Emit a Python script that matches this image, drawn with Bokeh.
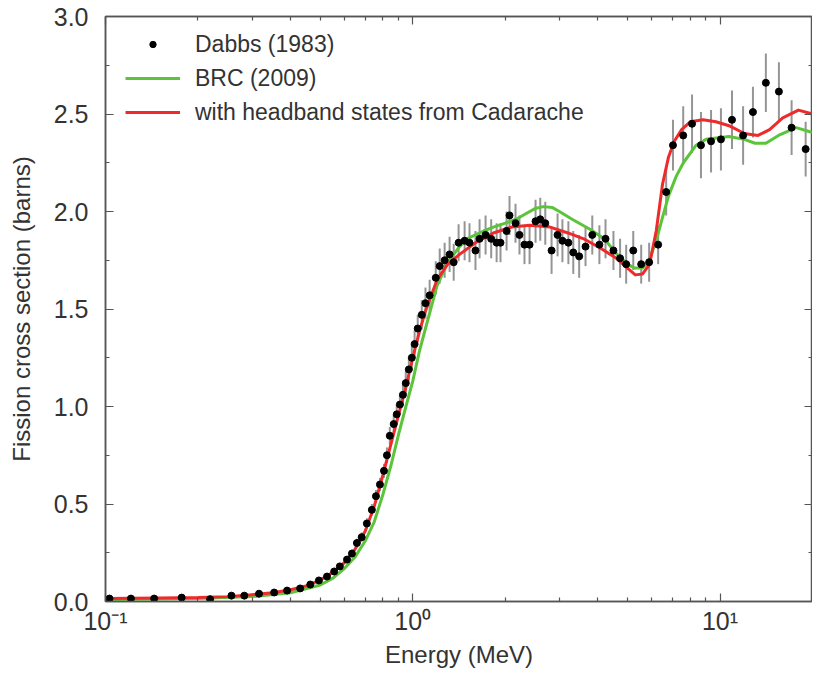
from bokeh.plotting import figure
from bokeh.models import (ColumnDataSource, FixedTicker, LogAxis, LinearAxis,
                          PrintfTickFormatter, Legend, LegendItem, Range1d,
                          CustomJSTickFormatter)
from bokeh.embed import file_html
from bokeh.resources import INLINE

FONT = "Liberation Sans"

# ---- Dabbs (1983) measured data ----
dabbs_E = [0.103, 0.121, 0.144, 0.177, 0.219, 0.257, 0.283, 0.316, 0.354, 0.390,
           0.430, 0.464, 0.495, 0.526, 0.555, 0.579, 0.611, 0.634, 0.658, 0.682,
           0.709, 0.736, 0.759, 0.782, 0.806, 0.824, 0.842, 0.867,
           0.887, 0.908, 0.929, 0.949, 0.971, 0.993, 1.014, 1.038, 1.07, 1.10,
           1.135, 1.188, 1.224, 1.27, 1.318, 1.359, 1.41, 1.475, 1.53, 1.60,
           1.65, 1.726, 1.80, 1.875, 1.93, 2.02, 2.065, 2.16, 2.225, 2.31,
           2.40, 2.51, 2.60, 2.70, 2.83, 2.96, 3.07, 3.21, 3.33, 3.48,
           3.65, 3.84, 4.05, 4.24, 4.50, 4.73, 4.95, 5.22, 5.54, 5.88,
           6.29,
           6.68, 7.03, 7.59, 8.11, 8.67, 9.35, 10.07, 10.94, 11.89, 12.8,
           14.1, 15.55, 17.1, 19.0]
dabbs_sigma = [0.015, 0.015, 0.015, 0.02, 0.012, 0.03, 0.03, 0.04, 0.046, 0.056,
               0.067, 0.087, 0.108, 0.128, 0.154, 0.18, 0.215, 0.246, 0.30, 0.33,
               0.40, 0.47, 0.54, 0.60, 0.67, 0.75, 0.85, 0.91,
               0.96, 1.01, 1.06, 1.12, 1.19, 1.25, 1.32, 1.40, 1.47, 1.53,
               1.57, 1.66, 1.72, 1.75, 1.78, 1.74, 1.84, 1.85, 1.84, 1.80,
               1.86, 1.88, 1.86, 1.84, 1.84, 1.90, 1.98, 1.94, 1.88, 1.83,
               1.83, 1.95, 1.96, 1.94, 1.80, 1.88, 1.85, 1.84, 1.79, 1.77,
               1.82, 1.88, 1.83, 1.86, 1.80, 1.76, 1.73, 1.80, 1.73, 1.74,
               1.83,
               2.10, 2.34, 2.39, 2.45, 2.34, 2.36, 2.37, 2.47, 2.39, 2.51,
               2.66, 2.615, 2.43, 2.32]
dabbs_err = [0.006, 0.006, 0.006, 0.006, 0.006, 0.008, 0.008, 0.008, 0.01, 0.01,
             0.01, 0.012, 0.012, 0.014, 0.015, 0.016, 0.018, 0.02, 0.022, 0.024,
             0.027, 0.03, 0.032, 0.034, 0.036, 0.04, 0.045, 0.048,
             0.05, 0.05, 0.055, 0.06, 0.06, 0.065, 0.07, 0.07, 0.075, 0.08,
             0.08, 0.085, 0.09, 0.09, 0.09, 0.095, 0.095, 0.1, 0.1, 0.1,
             0.1, 0.1, 0.1, 0.1, 0.1, 0.1, 0.1, 0.1, 0.1, 0.1,
             0.1, 0.11, 0.11, 0.11, 0.12, 0.11, 0.11, 0.11, 0.11, 0.11,
             0.1, 0.1, 0.1, 0.1, 0.1, 0.1, 0.1, 0.1, 0.1, 0.1,
             0.1,
             0.12, 0.13, 0.15, 0.15, 0.17, 0.16, 0.16, 0.15, 0.15, 0.13,
             0.15, 0.15, 0.14, 0.14]

# ---- BRC (2009) evaluation ----
brc_E = [0.1, 0.2, 0.3, 0.4, 0.5, 0.55, 0.6, 0.65, 0.7, 0.75, 0.8, 0.85, 0.9,
         0.95, 1.0, 1.05, 1.1, 1.2, 1.3, 1.42, 1.5, 1.7, 1.83, 2.0, 2.2, 2.34,
         2.5, 2.66, 2.85, 3.0, 3.3, 3.76, 4.2, 4.59, 5.0, 5.26, 5.6, 5.88, 6.2,
         6.5, 6.8, 7.2, 7.6, 8.36, 9.0, 10.7, 12.0, 13.0, 14.1, 15.5, 17.7, 20.0]
brc_sigma = [0.01, 0.015, 0.025, 0.045, 0.085, 0.12, 0.17, 0.23, 0.31, 0.41,
             0.55, 0.70, 0.86, 1.00, 1.13, 1.28, 1.40, 1.62, 1.74, 1.82, 1.86,
             1.90, 1.92, 1.94, 1.965, 1.99, 2.015, 2.025, 2.02, 2.00, 1.96,
             1.91, 1.86, 1.785, 1.73, 1.71, 1.71, 1.75, 1.85, 1.97, 2.08, 2.18,
             2.25, 2.34, 2.37, 2.385, 2.37, 2.35, 2.35, 2.39, 2.43, 2.405]

# ---- with headband states from Cadarache ----
cad_E = [0.1, 0.15, 0.2, 0.25, 0.3, 0.35, 0.4, 0.45, 0.5, 0.55, 0.6, 0.65, 0.7,
         0.75, 0.8, 0.85, 0.9, 0.95, 1.0, 1.05, 1.1, 1.2, 1.3, 1.42, 1.6, 1.83,
         2.1, 2.4, 2.8, 3.2, 3.6, 4.1, 4.6, 5.0, 5.3, 5.6, 5.9, 6.2, 6.5, 6.8,
         7.1, 7.5, 8.0, 8.8, 9.7, 10.7, 12.0, 13.3, 14.5, 16.0, 18.0, 20.0]
cad_sigma = [0.015, 0.018, 0.02, 0.025, 0.035, 0.045, 0.06, 0.08, 0.11, 0.15,
             0.20, 0.27, 0.36, 0.49, 0.65, 0.81, 0.96, 1.10, 1.25, 1.38, 1.49,
             1.65, 1.73, 1.78, 1.84, 1.89, 1.92, 1.93, 1.92, 1.89, 1.86, 1.81,
             1.76, 1.71, 1.675, 1.68, 1.73, 1.90, 2.14, 2.28, 2.36, 2.42, 2.46,
             2.47, 2.46, 2.44, 2.40, 2.39, 2.42, 2.48, 2.52, 2.50]

x_major = [0.1, 1, 10]
x_minor = [0.2, 0.3, 0.4, 0.5, 0.6, 0.7, 0.8, 0.9, 2, 3, 4, 5, 6, 7, 8, 9, 20]
x_labels = {0.1: "10⁻¹", 1: "10⁰", 10: "10¹"}
y_major = [0.0, 0.5, 1.0, 1.5, 2.0, 2.5, 3.0]
y_minor = [0.25, 0.75, 1.25, 1.75, 2.25, 2.75]

assert len(dabbs_E) == len(dabbs_sigma) == len(dabbs_err)
assert len(brc_E) == len(brc_sigma)
assert len(cad_E) == len(cad_sigma)

dsrc = ColumnDataSource(dict(
    x=dabbs_E, y=dabbs_sigma,
    lo=[s - e for s, e in zip(dabbs_sigma, dabbs_err)],
    hi=[s + e for s, e in zip(dabbs_sigma, dabbs_err)],
))

FRAME_H = 585
p = figure(x_axis_type="log", output_backend="svg", toolbar_location=None,
           frame_width=707, frame_height=FRAME_H,
           x_range=Range1d(0.1, 20), y_range=Range1d(0, 3.0),
           min_border_left=105, min_border_right=0, min_border_top=16,
           min_border_bottom=0)
p.background_fill_color = "white"
p.border_fill_color = "white"
p.grid.visible = False
p.outline_line_color = "#555555"
p.outline_line_width = 1.5

GREY = "#555555"
TXT = "#333333"

def style_axis(ax, ticks, minor, labels=True):
    ax.ticker = FixedTicker(ticks=ticks, minor_ticks=minor)
    ax.major_tick_in = 8
    ax.major_tick_out = 0
    ax.minor_tick_in = 4
    ax.minor_tick_out = 0
    ax.axis_line_color = GREY
    ax.axis_line_width = 1.5
    ax.major_tick_line_color = GREY
    ax.minor_tick_line_color = GREY
    ax.major_tick_line_width = 1.2
    ax.minor_tick_line_width = 1.2
    if labels:
        ax.major_label_text_font = FONT
        ax.major_label_text_font_size = "25px"
        ax.major_label_text_color = TXT
        ax.axis_label_text_font = FONT
        ax.axis_label_text_font_size = "24px"
        ax.axis_label_text_font_style = "normal"
        ax.axis_label_text_color = TXT
    else:
        ax.formatter = CustomJSTickFormatter(code="return ''")
        ax.major_label_standoff = 0

xa = p.xaxis[0]
style_axis(xa, x_major, x_minor)
xa.major_label_overrides = x_labels
xa.axis_label = "Energy (MeV)"
xa.major_label_standoff = 5
xa.axis_label_standoff = 3

ya = p.yaxis[0]
style_axis(ya, y_major, y_minor)
ya.formatter = PrintfTickFormatter(format="%.1f")
ya.axis_label = "Fission cross section (barns)"
ya.major_label_standoff = 17
ya.axis_label_standoff = 16

top = LogAxis()
style_axis(top, x_major, x_minor, labels=False)
p.add_layout(top, "above")
right = LinearAxis()
style_axis(right, y_major, y_minor, labels=False)
p.add_layout(right, "right")

GREEN = "#5cc43a"
RED = "#ee2a2a"

err = p.segment(x0="x", y0="lo", x1="x", y1="hi", source=dsrc,
                line_color="#959595", line_width=2)
brc = p.line(brc_E, brc_sigma, line_color=GREEN, line_width=3,
             line_join="round")
cad = p.line(cad_E, cad_sigma, line_color=RED, line_width=3,
             line_join="round")
pts = p.scatter("x", "y", source=dsrc, size=7, color="black")

ROW_H = 30
ROW_GAP = 4
legend = Legend(items=[
    LegendItem(label="Dabbs (1983)", renderers=[pts]),
    LegendItem(label="BRC (2009)", renderers=[brc]),
    LegendItem(label="with headband states from Cadarache", renderers=[cad]),
])
legend.border_line_color = None
legend.background_fill_alpha = 0
legend.label_text_font = FONT
legend.label_text_font_size = "23px"
legend.label_text_color = TXT
legend.glyph_width = 55
legend.glyph_height = 16
legend.label_height = ROW_H
legend.spacing = ROW_GAP
legend.label_standoff = 15
legend.margin = 0
legend.padding = 0
legend.location = (20, FRAME_H - 13 - (3 * ROW_H + 2 * ROW_GAP))
p.add_layout(legend, "center")

open("out.html", "w").write(file_html(p, INLINE))
